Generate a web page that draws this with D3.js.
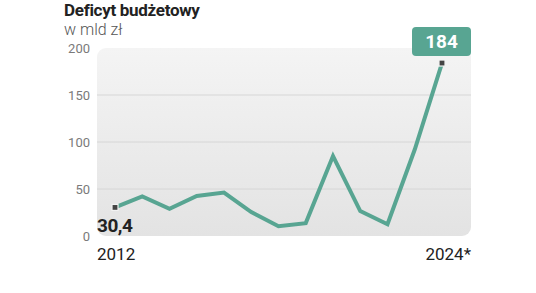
<!DOCTYPE html>
<html>
<head>
<meta charset="utf-8">
<script src="https://cdn.jsdelivr.net/npm/d3@7"></script>
<style>
  body { margin: 0; background: #fff; }
  svg { display: block; font-family: Roboto, "Noto Sans", sans-serif; }
</style>
</head>
<body>
<div id="plot"></div>
<script>
// data
const years = [2012, 2013, 2014, 2015, 2016, 2017, 2018, 2019, 2020, 2021, 2022, 2023, 2024];
const deficit = [30.4, 42.2, 29.0, 42.6, 46.2, 25.4, 10.4, 13.7, 85.0, 26.5, 12.5, 92.0, 184];
const yTicks = [0, 50, 100, 150, 200];
const title = "Deficyt budżetowy";
const subtitle = "w mld zł";

const svgWidth = 536;
const svgHeight = 293;
const margin = { top: 48, right: 65, bottom: 57, left: 97 };
const width = svgWidth - margin.left - margin.right;
const height = svgHeight - margin.top - margin.bottom;

const svg = d3.select("div#plot")
  .append("svg")
  .attr("width", svgWidth)
  .attr("height", svgHeight);

const defs = svg.append("defs");
const grad = defs.append("linearGradient")
  .attr("id", "bg")
  .attr("x1", 0).attr("y1", 0).attr("x2", 0).attr("y2", 1);
grad.append("stop").attr("offset", "0%").attr("stop-color", "#f4f4f4");
grad.append("stop").attr("offset", "100%").attr("stop-color", "#e3e3e3");

const g = svg.append("g")
  .attr("transform", "translate(" + margin.left + "," + margin.top + ")");

const x = d3.scaleLinear()
  .domain([2012, 2024])
  .range([18, 345]);

const y = d3.scaleLinear()
  .domain([0, 200])
  .range([height, 0]);

// plot background
g.append("rect")
  .attr("x", 0)
  .attr("y", 0)
  .attr("width", width)
  .attr("height", height)
  .attr("rx", 9)
  .attr("fill", "url(#bg)");

// gridlines
g.selectAll(".grid")
  .data(yTicks.filter((d) => d > 0 && d < 200))
  .enter()
  .append("line")
  .attr("class", "grid")
  .attr("x1", 0)
  .attr("x2", width)
  .attr("y1", (d) => y(d))
  .attr("y2", (d) => y(d))
  .attr("stroke", "#d6d6d6")
  .attr("stroke-width", 1);

// y tick labels
g.selectAll(".ytick")
  .data(yTicks)
  .enter()
  .append("text")
  .attr("class", "ytick")
  .attr("x", -7)
  .attr("y", (d) => y(d))
  .attr("dy", "0.35em")
  .attr("text-anchor", "end")
  .attr("fill", "#7a7a7a")
  .style("font-size", "13px")
  .text((d) => d);

// the line
const line = d3.line()
  .x((d, i) => x(years[i]))
  .y((d) => y(d));

g.append("path")
  .datum(deficit)
  .attr("d", line)
  .attr("fill", "none")
  .attr("stroke", "#58a592")
  .attr("stroke-width", 4)
  .attr("stroke-linejoin", "miter");

// end markers
const ends = [0, deficit.length - 1];
g.selectAll(".marker")
  .data(ends)
  .enter()
  .append("rect")
  .attr("class", "marker")
  .attr("x", (i) => x(years[i]) - 3)
  .attr("y", (i) => y(deficit[i]) - 3)
  .attr("width", 6)
  .attr("height", 6)
  .attr("fill", "#444")
  .attr("stroke", "#f2f2f2")
  .attr("stroke-width", 1.2);

// first value label
g.append("text")
  .attr("x", 0)
  .attr("y", y(deficit[0]) + 25)
  .attr("fill", "#222")
  .style("font-size", "19px")
  .style("font-weight", "bold")
  .style("letter-spacing", "-0.5px")
  .text(d3.format(".1f")(deficit[0]).replace(".", ","));

// last value box
const lastX = x(years[years.length - 1]);
const lastY = y(deficit[deficit.length - 1]);
const boxW = 59, boxH = 29;
g.append("rect")
  .attr("x", lastX - 30)
  .attr("y", lastY - 36)
  .attr("width", boxW)
  .attr("height", boxH)
  .attr("rx", 4)
  .attr("fill", "#58a592");
g.append("text")
  .attr("x", lastX - 30 + boxW / 2)
  .attr("y", lastY - 36 + boxH / 2)
  .attr("dy", "0.36em")
  .attr("text-anchor", "middle")
  .attr("fill", "#fff")
  .style("font-size", "19px")
  .style("font-weight", "bold")
  .text(deficit[deficit.length - 1]);

// x labels
g.append("text")
  .attr("x", 0)
  .attr("y", height + 24)
  .attr("fill", "#222")
  .style("font-size", "17px")
  .text(years[0]);
g.append("text")
  .attr("x", width)
  .attr("y", height + 24)
  .attr("text-anchor", "end")
  .attr("fill", "#222")
  .style("font-size", "17px")
  .text(years[years.length - 1] + "*");

// title
svg.append("text")
  .attr("x", 64)
  .attr("y", 16)
  .attr("fill", "#222")
  .style("font-size", "17px")
  .style("font-weight", "bold")
  .style("letter-spacing", "-0.3px")
  .text(title);
svg.append("text")
  .attr("x", 64)
  .attr("y", 35)
  .attr("fill", "#555")
  .style("font-size", "16px")
  .style("font-weight", 300)
  .text(subtitle);
</script>
</body>
</html>
